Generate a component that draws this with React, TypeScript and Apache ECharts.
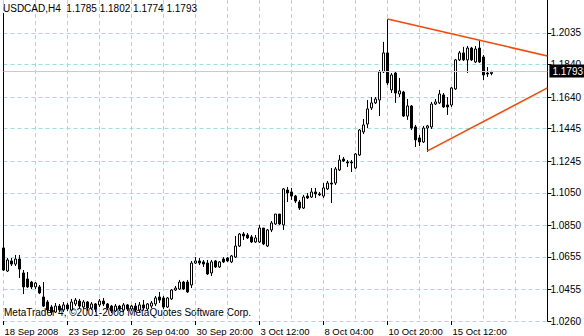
import React, { useEffect, useRef } from 'react';
import * as echarts from 'echarts';

const symbolTitle = 'USDCAD,H4  1.1785 1.1802 1.1774 1.1793';
const copyright = 'MetaTrader 4, \u00A92001-2008 MetaQuotes Software Corp.';
const xTickLabels = ['18 Sep 2008', '23 Sep 12:00', '26 Sep 04:00', '30 Sep 20:00', '3 Oct 12:00', '8 Oct 04:00', '10 Oct 20:00', '15 Oct 12:00'];
const yTickValues = [1.0260, 1.0455, 1.0655, 1.0850, 1.1050, 1.1245, 1.1445, 1.1640, 1.1840, 1.2035];
const slotCount = 137;
const lastBid = 1.1793;

// [open, close, low, high]
const bars: number[][] = [
  [1.0710, 1.0574, 1.0568, 1.2158],
  [1.0568, 1.0636, 1.0562, 1.0648],
  [1.0630, 1.0611, 1.0599, 1.0648],
  [1.0611, 1.0642, 1.0599, 1.0667],
  [1.0642, 1.0580, 1.0525, 1.0667],
  [1.0556, 1.0470, 1.0426, 1.0574],
  [1.0519, 1.0470, 1.0463, 1.0562],
  [1.0500, 1.0470, 1.0457, 1.0507],
  [1.0470, 1.0494, 1.0457, 1.0500],
  [1.0470, 1.0433, 1.0426, 1.0482],
  [1.0408, 1.0352, 1.0346, 1.0500],
  [1.0377, 1.0328, 1.0315, 1.0389],
  [1.0346, 1.0315, 1.0297, 1.0359],
  [1.0315, 1.0352, 1.0309, 1.0371],
  [1.0352, 1.0328, 1.0315, 1.0365],
  [1.0328, 1.0359, 1.0315, 1.0377],
  [1.0359, 1.0334, 1.0322, 1.0371],
  [1.0328, 1.0377, 1.0322, 1.0396],
  [1.0365, 1.0389, 1.0352, 1.0402],
  [1.0383, 1.0352, 1.0340, 1.0396],
  [1.0346, 1.0377, 1.0334, 1.0389],
  [1.0377, 1.0340, 1.0322, 1.0383],
  [1.0340, 1.0365, 1.0328, 1.0377],
  [1.0365, 1.0334, 1.0315, 1.0371],
  [1.0359, 1.0383, 1.0346, 1.0396],
  [1.0383, 1.0365, 1.0352, 1.0402],
  [1.0365, 1.0340, 1.0328, 1.0371],
  [1.0352, 1.0322, 1.0309, 1.0359],
  [1.0322, 1.0352, 1.0315, 1.0365],
  [1.0352, 1.0334, 1.0322, 1.0359],
  [1.0328, 1.0359, 1.0315, 1.0371],
  [1.0359, 1.0334, 1.0322, 1.0365],
  [1.0334, 1.0352, 1.0322, 1.0359],
  [1.0352, 1.0328, 1.0315, 1.0371],
  [1.0328, 1.0359, 1.0315, 1.0377],
  [1.0359, 1.0340, 1.0328, 1.0389],
  [1.0334, 1.0365, 1.0322, 1.0371],
  [1.0352, 1.0371, 1.0340, 1.0383],
  [1.0365, 1.0402, 1.0352, 1.0414],
  [1.0408, 1.0389, 1.0371, 1.0439],
  [1.0402, 1.0346, 1.0334, 1.0414],
  [1.0346, 1.0402, 1.0340, 1.0408],
  [1.0396, 1.0451, 1.0389, 1.0457],
  [1.0451, 1.0463, 1.0445, 1.0476],
  [1.0457, 1.0500, 1.0451, 1.0513],
  [1.0500, 1.0457, 1.0451, 1.0507],
  [1.0500, 1.0439, 1.0433, 1.0513],
  [1.0482, 1.0617, 1.0463, 1.0630],
  [1.0617, 1.0630, 1.0611, 1.0654],
  [1.0630, 1.0617, 1.0605, 1.0648],
  [1.0624, 1.0611, 1.0593, 1.0636],
  [1.0617, 1.0550, 1.0543, 1.0636],
  [1.0556, 1.0624, 1.0537, 1.0636],
  [1.0630, 1.0593, 1.0587, 1.0636],
  [1.0593, 1.0624, 1.0587, 1.0630],
  [1.0642, 1.0624, 1.0617, 1.0654],
  [1.0648, 1.0630, 1.0624, 1.0654],
  [1.0624, 1.0661, 1.0617, 1.0667],
  [1.0654, 1.0722, 1.0648, 1.0784],
  [1.0722, 1.0796, 1.0716, 1.0802],
  [1.0796, 1.0784, 1.0759, 1.0808],
  [1.0790, 1.0772, 1.0765, 1.0802],
  [1.0778, 1.0747, 1.0741, 1.0790],
  [1.0747, 1.0772, 1.0741, 1.0790],
  [1.0747, 1.0833, 1.0741, 1.0852],
  [1.0833, 1.0735, 1.0728, 1.0833],
  [1.0722, 1.0821, 1.0716, 1.0827],
  [1.0821, 1.0864, 1.0808, 1.0876],
  [1.0858, 1.0919, 1.0852, 1.0919],
  [1.0919, 1.0858, 1.0852, 1.0919],
  [1.0852, 1.1074, 1.0821, 1.1080],
  [1.1067, 1.1049, 1.0993, 1.1086],
  [1.1055, 1.1030, 1.1006, 1.1080],
  [1.1030, 1.0999, 1.0987, 1.1037],
  [1.0993, 1.0956, 1.0944, 1.1006],
  [1.0956, 1.1024, 1.0950, 1.1037],
  [1.1030, 1.1018, 1.1012, 1.1049],
  [1.1024, 1.1055, 1.1018, 1.1080],
  [1.1055, 1.1043, 1.1018, 1.1080],
  [1.1043, 1.1037, 1.1030, 1.1055],
  [1.1030, 1.1080, 1.1018, 1.1110],
  [1.1074, 1.1110, 1.1067, 1.1123],
  [1.1110, 1.1104, 1.0987, 1.1203],
  [1.1110, 1.1197, 1.1098, 1.1209],
  [1.1191, 1.1252, 1.1184, 1.1283],
  [1.1258, 1.1246, 1.1240, 1.1271],
  [1.1240, 1.1234, 1.1209, 1.1252],
  [1.1240, 1.1234, 1.1178, 1.1252],
  [1.1203, 1.1289, 1.1197, 1.1295],
  [1.1283, 1.1437, 1.1277, 1.1443],
  [1.1425, 1.1468, 1.1412, 1.1505],
  [1.1474, 1.1567, 1.1449, 1.1622],
  [1.1573, 1.1604, 1.1560, 1.1640],
  [1.1604, 1.1628, 1.1597, 1.1640],
  [1.1622, 1.1795, 1.1523, 1.1807],
  [1.1795, 1.1912, 1.1788, 1.1980],
  [1.1912, 1.1727, 1.1714, 1.2121],
  [1.1684, 1.1776, 1.1665, 1.1788],
  [1.1788, 1.1665, 1.1604, 1.1795],
  [1.1659, 1.1678, 1.1640, 1.1758],
  [1.1671, 1.1523, 1.1517, 1.1678],
  [1.1523, 1.1585, 1.1499, 1.1628],
  [1.1585, 1.1449, 1.1437, 1.1591],
  [1.1456, 1.1376, 1.1332, 1.1468],
  [1.1388, 1.1363, 1.1338, 1.1406],
  [1.1363, 1.1449, 1.1357, 1.1462],
  [1.1449, 1.1462, 1.1302, 1.1468],
  [1.1456, 1.1597, 1.1443, 1.1610],
  [1.1597, 1.1610, 1.1591, 1.1628],
  [1.1604, 1.1659, 1.1597, 1.1684],
  [1.1653, 1.1579, 1.1573, 1.1665],
  [1.1591, 1.1579, 1.1530, 1.1640],
  [1.1591, 1.1696, 1.1579, 1.1702],
  [1.1690, 1.1869, 1.1684, 1.1875],
  [1.1869, 1.1912, 1.1862, 1.1924],
  [1.1912, 1.1869, 1.1862, 1.1949],
  [1.1869, 1.1942, 1.1788, 1.1955],
  [1.1942, 1.1869, 1.1862, 1.1949],
  [1.1856, 1.1936, 1.1850, 1.1955],
  [1.1942, 1.1856, 1.1850, 1.1986],
  [1.1887, 1.1776, 1.1745, 1.1899],
  [1.1788, 1.1782, 1.1764, 1.1825],
  [1.1785, 1.1793, 1.1774, 1.1802],
];

const upperTrend = [[96, 1.2121], [136, 1.1893]];
const lowerTrend = [[106, 1.1308], [136, 1.1696]];

export default function App() {
  const ref = useRef<HTMLDivElement>(null);
  useEffect(() => {
    document.body.style.margin = '0';
    const chart = echarts.init(ref.current!, null, { renderer: 'svg' });
    const font = 'Liberation Sans';
    const gridColor = '#a0dede';
    const slots = Array.from({ length: slotCount }, (_, i) => String(i));
    const labelAt = (i: number) => i % 16 === 0 && i / 16 < xTickLabels.length;
    chart.setOption({
      animation: false,
      backgroundColor: '#ffffff',
      textStyle: { fontFamily: font },
      grid: { left: 3.5, right: 36.5, top: 0, bottom: 15 },
      xAxis: {
        type: 'category',
        data: slots,
        boundaryGap: false,
        axisLine: { show: false },
        axisTick: { show: true, interval: (i: number) => labelAt(i), length: 4, lineStyle: { color: '#000' } },
        axisLabel: {
          interval: (i: number) => labelAt(i),
          formatter: (_v: string, i: number) => xTickLabels[i / 16] ?? '',
          align: 'left',
          color: '#000',
          fontSize: 9.5,
          fontFamily: font,
          margin: 5,
          padding: [0, 0, 0, 1],
        },
        splitLine: { show: true, interval: (i: number) => i % 8 === 0, lineStyle: { color: gridColor, type: [4, 3], width: 1 } },
      },
      yAxis: {
        type: 'value',
        position: 'right',
        min: 1.026,
        max: 1.2238,
        axisLine: { show: true, lineStyle: { color: '#000', width: 1 } },
        axisTick: { show: true, customValues: yTickValues, length: 4, lineStyle: { color: '#000' } },
        axisLabel: {
          customValues: yTickValues,
          formatter: (v: number) => v.toFixed(4),
          color: '#000',
          fontSize: 10,
          fontFamily: font,
          margin: 3,
        },
        splitLine: { show: true, lineStyle: { color: gridColor, type: [4, 3], width: 1 } },
      },
      graphic: [
        { type: 'text', left: 3, top: 3, z: 100, style: { text: symbolTitle, fill: '#000', font: `10px "${font}"` } },
        { type: 'text', left: 4, top: 307, z: -1, style: { text: copyright, fill: '#000', font: `10px "${font}"` } },
      ],
      series: [
        {
          type: 'candlestick',
          data: bars,
          barWidth: 2,
          clip: false,
          itemStyle: { color: '#ffffff', color0: '#000000', borderColor: '#000000', borderColor0: '#000000', borderWidth: 1 },
          markLine: {
            silent: true,
            symbol: ['none', 'none'],
            data: [{ yAxis: lastBid }],
            lineStyle: { color: gridColor, type: 'solid', width: 1 },
            label: {
              show: true,
              position: 'end',
              formatter: lastBid.toFixed(4),
              backgroundColor: '#000',
              color: '#fff',
              fontSize: 10,
              fontFamily: font,
              padding: [2, 3, 1, 3],
              distance: 2,
            },
          },
        },
        {
          type: 'line',
          data: upperTrend,
          symbol: 'none',
          lineStyle: { color: '#ff4500', width: 1.5 },
          z: 5,
        },
        {
          type: 'line',
          data: lowerTrend,
          symbol: 'none',
          lineStyle: { color: '#ff4500', width: 1.5 },
          z: 5,
        },
      ],
    });
    return () => chart.dispose();
  }, []);
  return <div ref={ref} style={{ width: 584, height: 336 }} />;
}
